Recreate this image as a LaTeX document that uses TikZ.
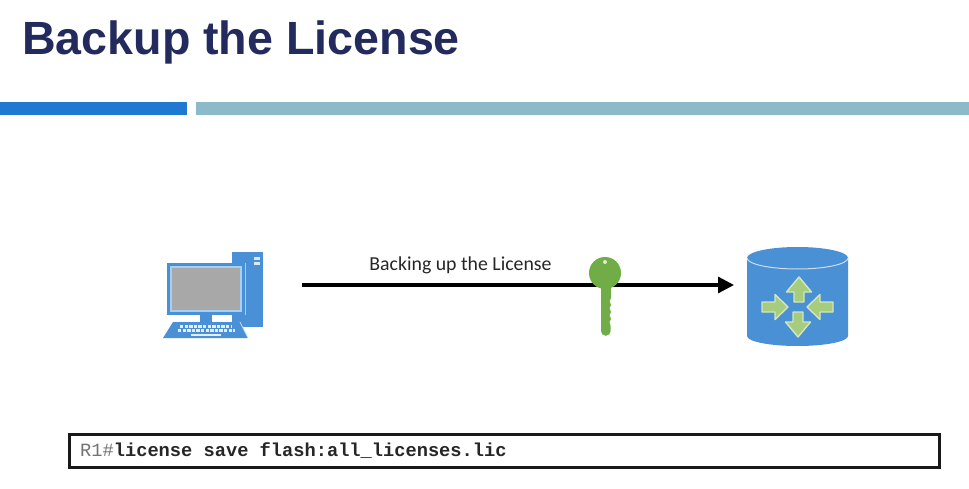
\documentclass[tikz,border=0pt]{standalone}
\usepackage{fontspec}
\setmainfont{Liberation Sans}
\newfontfamily\labelfont{Carlito}
\newfontfamily\codefont{Liberation Mono}
\usetikzlibrary{arrows.meta}
\definecolor{titlec}{HTML}{232B5E}
\definecolor{barblue}{HTML}{1F78D2}
\definecolor{barteal}{HTML}{8CBAC8}
\definecolor{iconblue}{HTML}{4A90D6}
\definecolor{iconlight}{HTML}{A5D0F2}
\definecolor{screen}{HTML}{A8A8A8}
\definecolor{cyl}{HTML}{4A90D4}
\definecolor{arrowg}{HTML}{A6CC7E}
\definecolor{arrowedge}{HTML}{D2E6C4}
\definecolor{keyg}{HTML}{70AD47}
\tikzset{
  iconfill/.style={fill=iconblue,draw=none},
  routerarrow/.style={fill=arrowg,draw=arrowedge,line width=1.4pt,line join=round},
  keyrow/.style={white!85!iconblue,line width=2.4pt,dash pattern=on 3.4pt off 1.2pt},
}
\begin{document}
\begin{tikzpicture}[x=1pt,y=-1pt]
\useasboundingbox[fill=white] (0,0) rectangle (969,489);
\node[anchor=base west,inner sep=0pt,text=titlec,font=\fontsize{46.6}{50}\selectfont\bfseries] (title) at (22,55) {Backup the License};
\fill[barblue] (0,102) rectangle (187,115);
\fill[barteal] (196,102) rectangle (969,115);
% connector
\coordinate (arrowstart) at (302,285);
\coordinate (arrowend) at (734,285);
\draw[line width=3.2pt,-{Triangle[length=16pt,width=16pt]},black] (arrowstart) -- (arrowend);
\node[anchor=base,font=\labelfont\fontsize{19.8}{22}\selectfont,text=black!85,inner sep=0pt] (label) at (460.5,270) {Backing up the License};
% computer
\fill[iconfill] (232,252) rectangle (263,327);
\fill[white!80!iconblue] (254,257) rectangle (260,260);
\fill[white!80!iconblue] (254,262) rectangle (260,265);
\fill[white] (212,315) rectangle (232,322);
\fill[iconfill] (200,315) rectangle (212,323);
\fill[iconfill] (167,263) rectangle (245,315);
\draw[iconlight,line width=0.8pt] (245.4,262.6) -- (245.4,315.4);
\draw[iconlight,line width=1.2pt] (171,267) rectangle (241,311);
\fill[screen] (172,268) rectangle (240,310);
\fill[iconfill] (173,322) -- (240,322) -- (248,338) -- (163,338) -- cycle;
\draw[white!70!iconblue,line width=0.8pt] (240,322) -- (248,338);
\draw[keyrow] (180,326.5) -- (232,326.5);
\draw[keyrow] (178,330.5) -- (235,330.5);
\draw[white!85!iconblue,line width=2pt] (191,335) -- (221,335);
% router
\fill[cyl] (747,258) arc[start angle=180,end angle=360,x radius=50.5,y radius=11]
  -- (848,336) arc[start angle=0,end angle=180,x radius=50.5,y radius=10] -- cycle;
\draw[white!70!cyl,line width=1pt] (747,258) arc[start angle=180,end angle=0,x radius=50.5,y radius=11];
\draw[routerarrow] (799,277) -- (811.5,292) -- (804,292) -- (804,302) -- (794,302) -- (794,292) -- (786.5,292) -- cycle;
\draw[routerarrow] (798,337) -- (785.5,322) -- (793,322) -- (793,312) -- (803,312) -- (803,322) -- (810.5,322) -- cycle;
\draw[routerarrow] (788,307) -- (775,294.5) -- (775,302) -- (762,302) -- (762,312) -- (775,312) -- (775,319.5) -- cycle;
\draw[routerarrow] (807,307) -- (820,294.5) -- (820,302) -- (833,302) -- (833,312) -- (820,312) -- (820,319.5) -- cycle;
% key
\fill[keyg] (601,280) -- (601,331) arc[start angle=180,end angle=0,radius=4.8] -- (610.6,326) -- (609.5,322) -- (611,319) -- (609.5,315) -- (611,312) -- (609.5,308) -- (611,305) -- (609.5,301) -- (611,298) -- (611,280) -- cycle;
\fill[keyg] (605,273) circle[radius=16];
\fill[white!75!keyg] (605,262) circle[radius=2];
% command box
\node[draw=black!90,line width=2.6pt,fill=white,anchor=north west,minimum width=870pt,minimum height=33pt,inner sep=0pt,outer sep=0pt] (cmdbox) at (69.5,434.5) {};
\node[anchor=west,inner sep=0pt,font=\codefont\fontsize{18.7}{20}\selectfont,text=black!85] (cmd) at (80,451) {\textcolor{black!55}{R1\#}\textbf{license save flash:all\_licenses.lic}};
\end{tikzpicture}
\end{document}
